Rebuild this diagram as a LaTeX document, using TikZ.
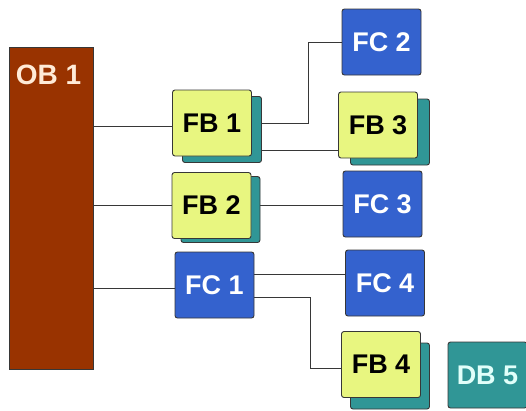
\documentclass[tikz,border=0pt]{standalone}
\usepackage{fontspec}
\setmainfont{Liberation Sans}
\usetikzlibrary{backgrounds}
\definecolor{obbrown}{RGB}{153,51,0}
\definecolor{obtext}{RGB}{255,235,215}
\definecolor{fbyellow}{RGB}{232,246,128}
\definecolor{shteal}{RGB}{48,150,150}
\definecolor{fcblue}{RGB}{52,98,206}
\definecolor{dbtext}{RGB}{225,255,250}
\definecolor{edge}{RGB}{55,55,55}
\tikzset{
  blk/.style={draw=edge, line width=0.9pt, rounded corners=2.5pt, minimum width=79pt,
    minimum height=66pt, inner sep=0pt, font=\fontsize{27}{27}\selectfont\bfseries},
  fbbox/.style={blk, fill=fbyellow, text=black},
  fcbox/.style={blk, fill=fcblue, text=white},
  shbox/.style={blk, fill=shteal},
  dbbox/.style={blk, fill=shteal, text=dbtext},
  conn/.style={draw=edge, line width=1pt},
}
\begin{document}
\begin{tikzpicture}[x=1pt,y=-1pt]
\useasboundingbox (0,0) rectangle (526,410);
% OB 1
\node[draw=edge, line width=0.9pt, fill=obbrown, minimum width=84pt, minimum height=322pt, inner sep=0pt] (ob1) at (51,208) {};
\node[font=\fontsize{28}{28}\selectfont\bfseries, text=obtext, inner sep=0pt] (ob1t) at (48.5,75) {OB 1};
% FB 1
\node[shbox] (fb1s) at (222,129.5) {};
\node[fbbox] (fb1) at (212,123) {FB 1};
% FB 2
\node[shbox] (fb2s) at (220.5,209.5) {};
\node[fbbox] (fb2) at (211.5,205.5) {FB 2};
% FC 1
\node[fcbox] (fc1) at (214.5,285) {FC 1};
% FC 2
\node[fcbox] (fc2) at (381.5,42) {FC 2};
% FB 3
\node[shbox] (fb3s) at (390,132) {};
\node[fbbox] (fb3) at (378,125) {FB 3};
% FC 3
\node[fcbox] (fc3) at (382.5,204) {FC 3};
% FC 4
\node[fcbox] (fc4) at (385,283) {FC 4};
% FB 4
\node[shbox] (fb4s) at (390,376) {};
\node[fbbox] (fb4) at (381,364.5) {FB 4};
% DB 5
\node[dbbox] (db5) at (487.5,375) {DB 5};
% connectors
\coordinate (b1) at (308,0);
\coordinate (b2) at (310,0);
\coordinate (o1) at ([yshift=-3pt]fb1.west);
\coordinate (o3) at ([yshift=-3pt]fc1.west);
\coordinate (f13) at ([yshift=-27pt]fb1.east);
\coordinate (c14) at ([yshift=11pt]fc1.east);
\coordinate (c1b) at ([yshift=-12pt]fc1.east);
\coordinate (fb4in) at ([yshift=-3.5pt]fb4.west);
\begin{pgfonlayer}{background}
\draw[conn] (o1 -| ob1.east) -- (o1);
\draw[conn] (fb2.west -| ob1.east) -- (fb2.west);
\draw[conn] (o3 -| ob1.east) -- (o3);
\draw[conn] (fb1.east) -- (fb1.east -| b1) |- (fc2.west);
\draw[conn] (f13) -- (f13 -| fb3.west);
\draw[conn] (fb2.east) -- (fb2.east -| fc3.west);
\draw[conn] (c14) -- (c14 -| fc4.west);
\draw[conn] (c1b) -- (c1b -| b2) |- (fb4in);
\end{pgfonlayer}
\end{tikzpicture}
\end{document}
